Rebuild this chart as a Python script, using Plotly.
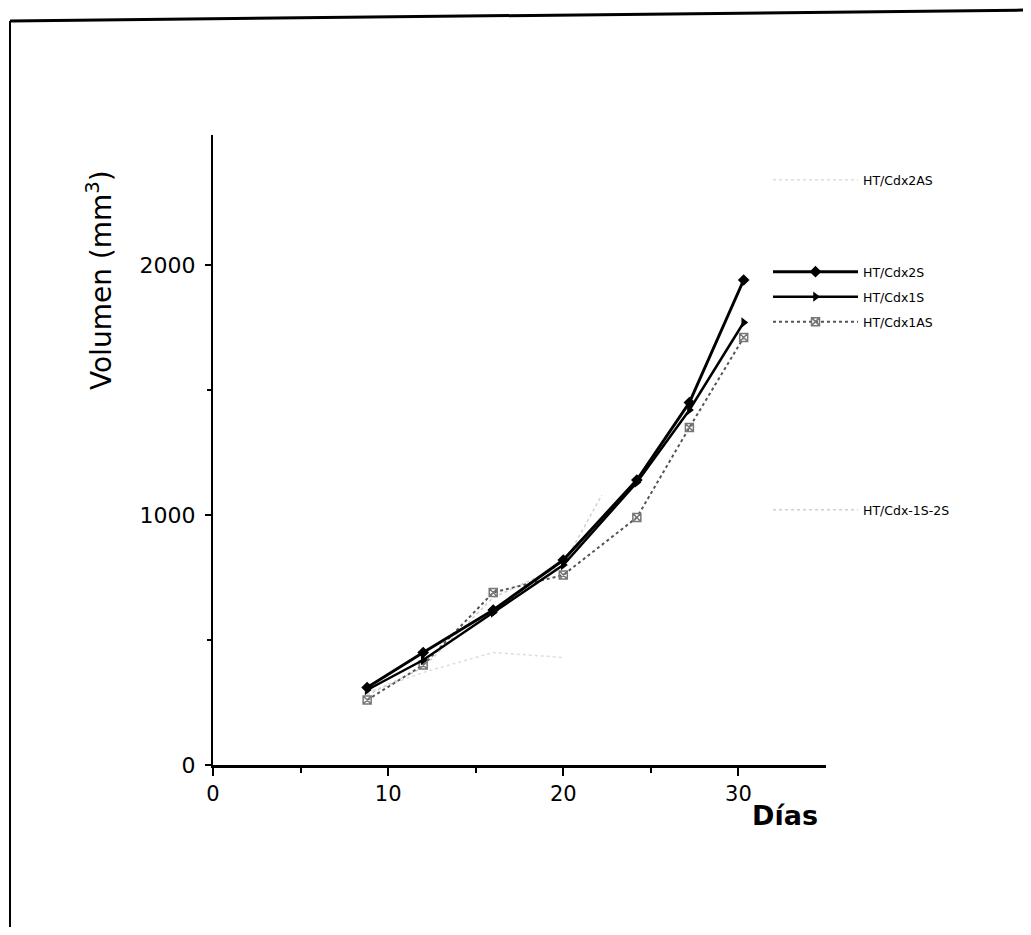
import plotly.graph_objects as go

# ---- data ----
days = [8.8, 12, 16, 20, 24.2, 27.2, 30.3]
cdx2s = [310, 450, 620, 820, 1140, 1450, 1940]
cdx1s = [300, 420, 610, 800, 1130, 1420, 1770]
cdx1as = [260, 400, 690, 760, 990, 1350, 1710]
days_2as = [8.8, 12, 16, 20]
cdx2as = [290, 370, 450, 430]
days_12s = [8.8, 12, 16, 20, 22.2]
cdx12s = [280, 390, 670, 800, 1080]

x_ticks = [0, 10, 20, 30]
y_ticks = [0, 1000, 2000]

# ---- geometry (reference pixel coords; page body has an 8px margin) ----
OFF = 8
L, R, T, B = 213 - OFF, 826 - OFF, 135 - OFF, 765 - OFF
W, H = 1031 - 2 * OFF, 935 - 2 * OFF
def px(x):
    return (x - OFF - L) / (R - L)
def py(y):
    return (B - (y - OFF)) / (B - T)

font_main = "DejaVu Sans"
fig = go.Figure()

fig.add_trace(go.Scatter(
    x=days_2as, y=cdx2as, name="HT/Cdx2AS", mode="lines",
    line=dict(color="#dddddd", width=1.5, dash="dot"), legend="legend"))
fig.add_trace(go.Scatter(
    x=days_12s, y=cdx12s, name="HT/Cdx-1S-2S", mode="lines",
    line=dict(color="#d0d0d0", width=1.5, dash="dot"), legend="legend5"))
fig.add_trace(go.Scatter(
    x=days, y=cdx1as, name="HT/Cdx1AS", mode="lines+markers",
    line=dict(color="#555555", width=2, dash="dot"),
    marker=dict(symbol="square-x-open", size=8, color="#777777", line=dict(width=1.5)),
    legend="legend4"))
fig.add_trace(go.Scatter(
    x=days, y=cdx1s, name="HT/Cdx1S", mode="lines+markers",
    line=dict(color="black", width=2.5),
    marker=dict(symbol="triangle-right", size=9, color="black"),
    legend="legend3"))
fig.add_trace(go.Scatter(
    x=days, y=cdx2s, name="HT/Cdx2S", mode="lines+markers",
    line=dict(color="black", width=3),
    marker=dict(symbol="diamond", size=9, color="black"),
    legend="legend2"))

leg_font = dict(family=font_main, size=12.5, color="black")
def leg(ycenter):
    return dict(x=px(768), y=py(ycenter), xanchor="left", yanchor="middle",
                bgcolor="rgba(0,0,0,0)", borderwidth=0, font=leg_font,
                itemwidth=85, itemclick=False)

fig.update_layout(
    width=W, height=H,
    margin=dict(l=L, r=W - R, t=T, b=H - B, pad=0),
    paper_bgcolor="white", plot_bgcolor="white",
    showlegend=True,
    legend=leg(180), legend2=leg(272), legend3=leg(297),
    legend4=leg(322), legend5=leg(510),
    xaxis=dict(range=[0, 35], tickvals=x_ticks, ticks="outside", ticklen=8,
               tickwidth=2, tickcolor="black", showline=True, linecolor="black",
               linewidth=3, showgrid=False, zeroline=False,
               tickfont=dict(family=font_main, size=21, color="black"),
               minor=dict(tickvals=[5, 15, 25], ticks="outside", ticklen=5,
                          tickwidth=2, tickcolor="black")),
    yaxis=dict(range=[0, 2520], tickvals=y_ticks, ticks="outside", ticklen=6,
               tickwidth=2, tickcolor="black", showline=True, linecolor="black",
               linewidth=2, showgrid=False, zeroline=False,
               ticklabelstandoff=5,
               tickfont=dict(family=font_main, size=22, color="black"),
               minor=dict(tickvals=[500, 1500], ticks="outside", ticklen=4,
                          tickwidth=2, tickcolor="black")),
)

fig.add_annotation(text="Volumen (mm<sup>3</sup>)", xref="paper", yref="paper",
                   x=px(99), y=py(280), textangle=-90, showarrow=False,
                   font=dict(family=font_main, size=28, color="black"),
                   xanchor="center", yanchor="middle")
fig.add_annotation(text="<b>Días</b>", xref="paper", yref="paper",
                   x=px(785), y=py(815), showarrow=False,
                   font=dict(family=font_main, size=27, color="black"),
                   xanchor="center", yanchor="middle")

# page frame
fig.add_shape(type="line", xref="paper", yref="paper",
              x0=px(10), y0=py(21), x1=px(1031), y1=py(10),
              line=dict(color="black", width=3))
fig.add_shape(type="line", xref="paper", yref="paper",
              x0=px(10), y0=py(21), x1=px(10), y1=py(935),
              line=dict(color="black", width=2))

fig.write_html("out.html")
